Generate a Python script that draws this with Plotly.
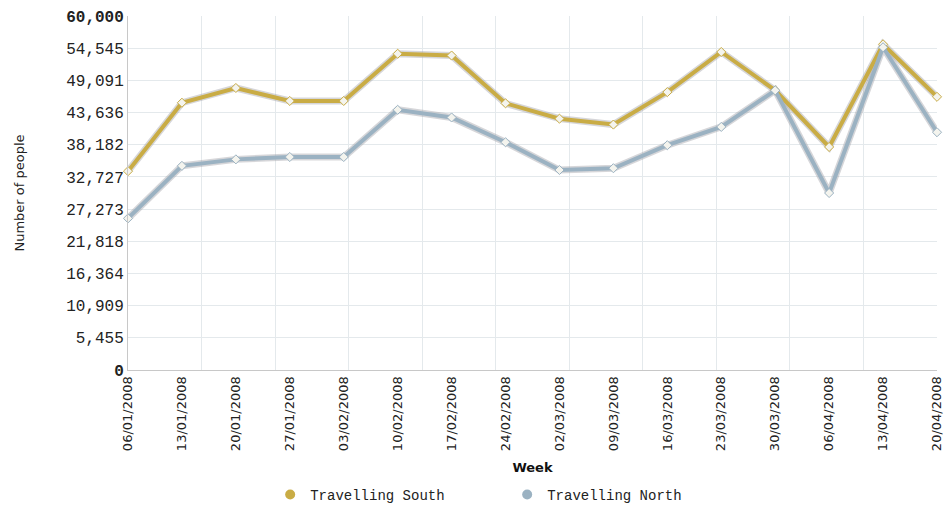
import plotly.graph_objects as go

weeks = ["06/01/2008", "13/01/2008", "20/01/2008", "27/01/2008", "03/02/2008",
         "10/02/2008", "17/02/2008", "24/02/2008", "02/03/2008", "09/03/2008",
         "16/03/2008", "23/03/2008", "30/03/2008", "06/04/2008", "13/04/2008",
         "20/04/2008"]
south = [33700, 45300, 47800, 45600, 45600, 53600, 53300, 45200, 42600, 41600,
         47100, 53900, 47400, 37800, 55200, 46300]
north = [25700, 34600, 35700, 36100, 36100, 44100, 42800, 38600, 33900, 34200,
         38100, 41200, 47400, 30000, 54700, 40300]
y_ticks = [0, 5455, 10909, 16364, 21818, 27273, 32727, 38182, 43636, 49091, 54545, 60000]
y_tick_labels = ["<b>0</b>", "5,455", "10,909", "16,364", "21,818", "27,273", "32,727",
                 "38,182", "43,636", "49,091", "54,545", "<b>60,000</b>"]

GOLD = "#c9ac45"
BLUE = "#9bb2c2"
idx = list(range(len(weeks)))

fig = go.Figure()
# soft shadow lines
for vals in (south, north):
    fig.add_trace(go.Scatter(x=idx, y=vals, mode="lines",
                             line=dict(color="rgba(165,165,170,0.45)", width=7),
                             showlegend=False, hoverinfo="skip", cliponaxis=False))
for vals, col, name in [(south, GOLD, "Travelling South"), (north, BLUE, "Travelling North")]:
    fig.add_trace(go.Scatter(x=idx, y=vals, mode="lines+markers", name=name,
                             line=dict(color=col, width=4),
                             marker=dict(symbol="diamond", size=7, color="#f4f4ee",
                                         line=dict(color=col, width=1)),
                             showlegend=False, cliponaxis=False))
    fig.add_trace(go.Scatter(x=[None], y=[None], mode="markers", name=name,
                             marker=dict(symbol="circle", size=10, color=col)))

fig.update_layout(
    width=948, height=507,
    margin=dict(l=128, r=11, t=16, b=137),
    plot_bgcolor="white", paper_bgcolor="white",
    font=dict(family="DejaVu Sans", color="#222"),
    xaxis=dict(range=[0, 15], tickvals=idx, ticktext=weeks, tickangle=-90,
               showgrid=False, zeroline=False, showline=True, linecolor="#c8c8c8",
               automargin=False,
               tickfont=dict(family="DejaVu Sans", size=13, color="#222"),
               title=dict(text="<b>Week</b>", font=dict(family="DejaVu Sans", size=13, color="#111"),
                          standoff=12)),
    xaxis2=dict(range=[0, 11], dtick=1, overlaying="x", showgrid=True, gridcolor="#e4e9ec",
                showticklabels=False, zeroline=False, side="top", automargin=False),
    yaxis=dict(range=[0, 60000], tickvals=y_ticks, ticktext=y_tick_labels,
               showgrid=True, gridcolor="#e4e9ec", zeroline=False, showline=True,
               linecolor="#c8c8c8", ticks="", ticklen=0, automargin=False,
               tickfont=dict(family="Liberation Mono", size=16, color="#222"),
               title=dict(text="Number of people", font=dict(family="DejaVu Sans", size=13, color="#222"),
                          standoff=38)),
    legend=dict(orientation="h", xref="container", yref="container",
                x=0.535, xanchor="center", y=0.024, yanchor="middle",
                font=dict(family="Liberation Mono", size=14, color="#222"),
                entrywidth=192, entrywidthmode="pixels", tracegroupgap=0),
)
# invisible trace to activate xaxis2 gridlines
fig.add_trace(go.Scatter(x=[0, 11], y=[None, None], xaxis="x2", mode="lines",
                         showlegend=False, hoverinfo="skip"))

fig.write_html("out.html")
